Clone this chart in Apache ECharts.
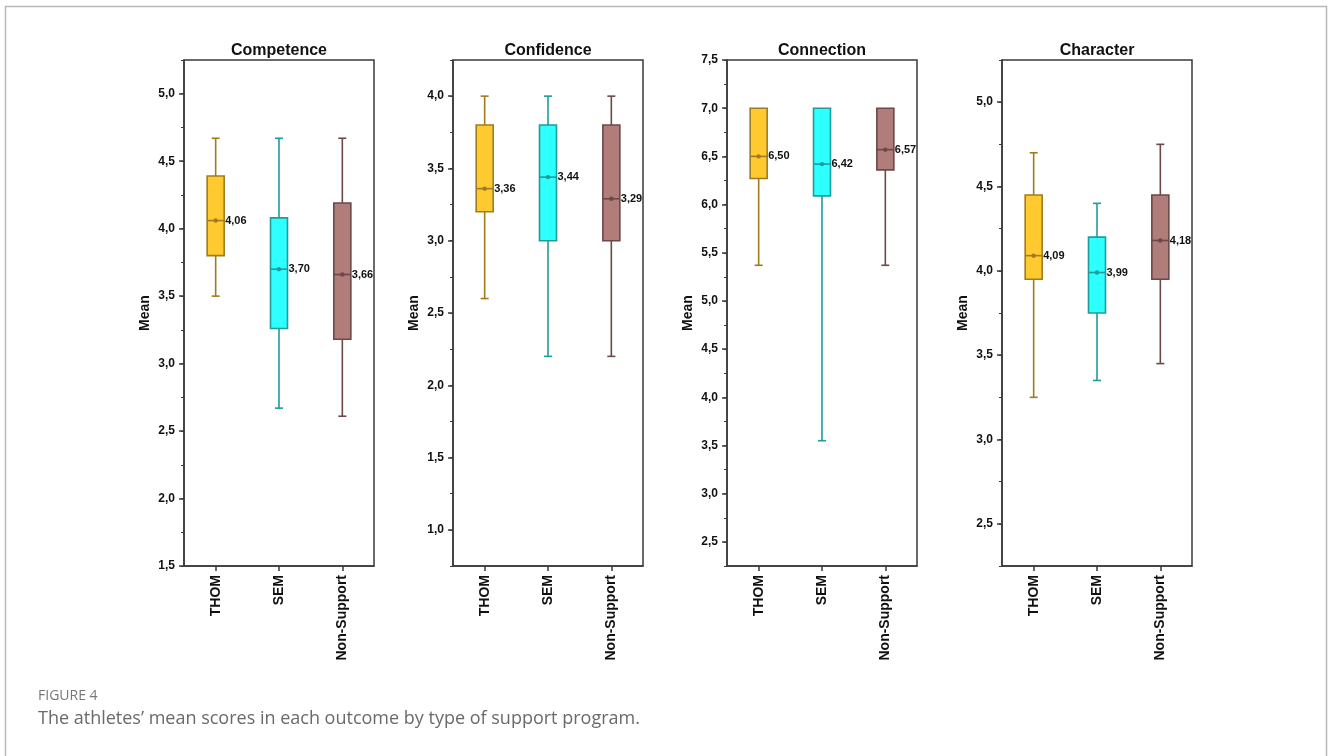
<!DOCTYPE html>
<html>
<head>
<meta charset="utf-8">
<title>Mean scores by support program</title>
<script src="https://cdn.jsdelivr.net/npm/echarts@6/dist/echarts.min.js"></script>
<style>
  html, body { margin: 0; padding: 0; background: #fff; }
  #chart { width: 1328px; height: 756px; }
</style>
</head>
<body>
<div id="chart"></div>
<script>
// Support program groups (x categories, same for every panel)
const programs = ['THOM', 'SEM', 'Non-Support'];

// Outcome panels
const outcomes = ['Competence', 'Confidence', 'Connection', 'Character'];

// Per outcome, per program: [min, Q1, mean, Q3, max]
const competence = [
  [3.50, 3.80, 4.06, 4.39, 4.67],
  [2.67, 3.26, 3.70, 4.08, 4.67],
  [2.61, 3.18, 3.66, 4.19, 4.67]
];
const confidence = [
  [2.60, 3.20, 3.36, 3.80, 4.00],
  [2.20, 3.00, 3.44, 3.80, 4.00],
  [2.20, 3.00, 3.29, 3.80, 4.00]
];
const connection = [
  [5.37, 6.27, 6.50, 7.00, 7.00],
  [3.55, 6.09, 6.42, 7.00, 7.00],
  [5.37, 6.36, 6.57, 7.00, 7.00]
];
const character = [
  [3.25, 3.95, 4.09, 4.45, 4.70],
  [3.35, 3.75, 3.99, 4.20, 4.40],
  [3.45, 3.95, 4.18, 4.45, 4.75]
];

// Value-axis ranges per panel [min, max]
const yRanges = [
  [1.5, 5.25],
  [0.75, 4.25],
  [2.25, 7.5],
  [2.25, 5.25]
];

const panelData = [competence, confidence, connection, character];

// Fill / edge colours per program
const palette = [
  { fill: '#FFCA30', edge: '#9E7C1E' },
  { fill: '#2EFFFF', edge: '#1F9C9C' },
  { fill: '#B07D7B', edge: '#6C4848' }
];

const FONT = '"Liberation Sans", Arial, sans-serif';
const CAPTION_FONT = '"Open Sans", Lato, sans-serif';
const AXIS_COLOR = '#3a3a3a';
const gridLefts = [184, 453, 727, 1002];
const GRID_W = 190, GRID_TOP = 60, GRID_H = 506;
const BOX_W = 17, CAP_W = 8;

const comma = (v, d) => v.toFixed(d).replace('.', ',');
const isHalf = v => Math.abs(v * 2 - Math.round(v * 2)) < 1e-6;

const grids = [], xAxes = [], yAxes = [], series = [], graphics = [];

outcomes.forEach((name, i) => {
  const left = gridLefts[i];
  grids.push({
    left: left, top: GRID_TOP, width: GRID_W, height: GRID_H,
    show: true, borderColor: AXIS_COLOR, borderWidth: 1.5, backgroundColor: 'transparent'
  });
  xAxes.push({
    type: 'category', gridIndex: i, data: programs, position: 'bottom',
    axisLine: { show: true, lineStyle: { color: AXIS_COLOR, width: 1.5 } },
    axisTick: { show: true, alignWithLabel: true, length: 5, inside: false, lineStyle: { color: AXIS_COLOR, width: 1.5 } },
    axisLabel: { rotate: 90, margin: 9, color: '#111', fontWeight: 'bold', fontSize: 14, fontFamily: FONT },
    splitLine: { show: false }
  });
  const [ymin, ymax] = yRanges[i];
  // labelled axis with short ticks every 0.25
  yAxes.push({
    type: 'value', gridIndex: i, position: 'left', offset: 0,
    min: ymin, max: ymax, interval: 0.25,
    name: 'Mean', nameLocation: 'middle', nameGap: 32,
    nameTextStyle: { color: '#111', fontWeight: 'bold', fontSize: 14, fontFamily: FONT },
    axisLine: { show: true, lineStyle: { color: AXIS_COLOR, width: 1.5 } },
    axisTick: { show: true, length: 3, lineStyle: { color: AXIS_COLOR, width: 1 } },
    axisLabel: {
      margin: 9, color: '#111', fontWeight: 'bold', fontSize: 12, fontFamily: FONT,
      formatter: v => (isHalf(v) ? comma(v, 1) : '')
    },
    splitLine: { show: false }
  });
  // overlay axis on the same side drawing the longer ticks at every 0.5
  const halfTicks = [];
  for (let v = Math.ceil(ymin * 2) / 2; v <= ymax + 1e-9; v += 0.5) halfTicks.push(+v.toFixed(2));
  yAxes.push({
    type: 'value', gridIndex: i, position: 'left', offset: 0,
    min: ymin, max: ymax, interval: 0.25,
    axisLine: { show: false },
    axisTick: { show: true, length: 5, customValues: halfTicks, lineStyle: { color: AXIS_COLOR, width: 1.5 } },
    axisLabel: { show: false },
    splitLine: { show: false }
  });

  series.push({
    type: 'custom',
    xAxisIndex: i,
    yAxisIndex: i * 2,
    data: panelData[i].map((d, j) => [j].concat(d)),
    renderItem: (params, api) => {
      const j = api.value(0);
      const c = palette[j];
      const x = api.coord([j, 0])[0];
      const yAt = k => api.coord([j, api.value(k)])[1];
      const yMin = yAt(1), yQ1 = yAt(2), yMean = yAt(3), yQ3 = yAt(4), yMax = yAt(5);
      const edge = { stroke: c.edge, lineWidth: 1.6, fill: null };
      const kids = [];
      if (yQ3 - yMax > 0.5) {
        kids.push({ type: 'line', shape: { x1: x, y1: yMax, x2: x, y2: yQ3 }, style: edge });
        kids.push({ type: 'line', shape: { x1: x - CAP_W / 2, y1: yMax, x2: x + CAP_W / 2, y2: yMax }, style: edge });
      }
      if (yMin - yQ1 > 0.5) {
        kids.push({ type: 'line', shape: { x1: x, y1: yQ1, x2: x, y2: yMin }, style: edge });
        kids.push({ type: 'line', shape: { x1: x - CAP_W / 2, y1: yMin, x2: x + CAP_W / 2, y2: yMin }, style: edge });
      }
      kids.push({
        type: 'rect',
        shape: { x: x - BOX_W / 2, y: yQ3, width: BOX_W, height: yQ1 - yQ3 },
        style: { fill: c.fill, stroke: c.edge, lineWidth: 1.6 }
      });
      kids.push({ type: 'line', shape: { x1: x - BOX_W / 2, y1: yMean, x2: x + BOX_W / 2, y2: yMean }, style: edge });
      kids.push({ type: 'circle', shape: { cx: x, cy: yMean, r: 2.2 }, style: { fill: c.edge } });
      kids.push({
        type: 'text',
        style: {
          text: comma(api.value(3), 2), x: x + BOX_W / 2 + 1, y: yMean,
          align: 'left', verticalAlign: 'middle',
          fontSize: 11, fontWeight: 'bold', fontFamily: FONT, fill: '#111'
        }
      });
      return { type: 'group', children: kids };
    }
  });

  graphics.push({
    type: 'text', x: left + GRID_W / 2, y: 51,
    style: { text: name, align: 'center', verticalAlign: 'middle', fontSize: 16, fontWeight: 'bold', fontFamily: FONT, fill: '#111' }
  });
});

// outer frame and caption
graphics.push({
  type: 'rect', shape: { x: 5.5, y: 6.5, width: 1321, height: 800 },
  style: { fill: null, stroke: '#b8b8b8', lineWidth: 1.5 }, silent: true
});
graphics.push({
  type: 'text', x: 38, y: 696,
  style: { text: 'FIGURE 4', align: 'left', verticalAlign: 'middle', fontSize: 14, fontFamily: CAPTION_FONT, fill: '#777' }
});
graphics.push({
  type: 'text', x: 38, y: 719,
  style: { text: 'The athletes’ mean scores in each outcome by type of support program.', align: 'left', verticalAlign: 'middle', fontSize: 18, fontFamily: CAPTION_FONT, fill: '#6a6a6a' }
});

const chart = echarts.init(document.getElementById('chart'), null, { renderer: 'canvas' });
chart.setOption({
  animation: false,
  backgroundColor: '#fff',
  grid: grids,
  xAxis: xAxes,
  yAxis: yAxes,
  series: series,
  graphic: graphics
});
</script>
</body>
</html>
